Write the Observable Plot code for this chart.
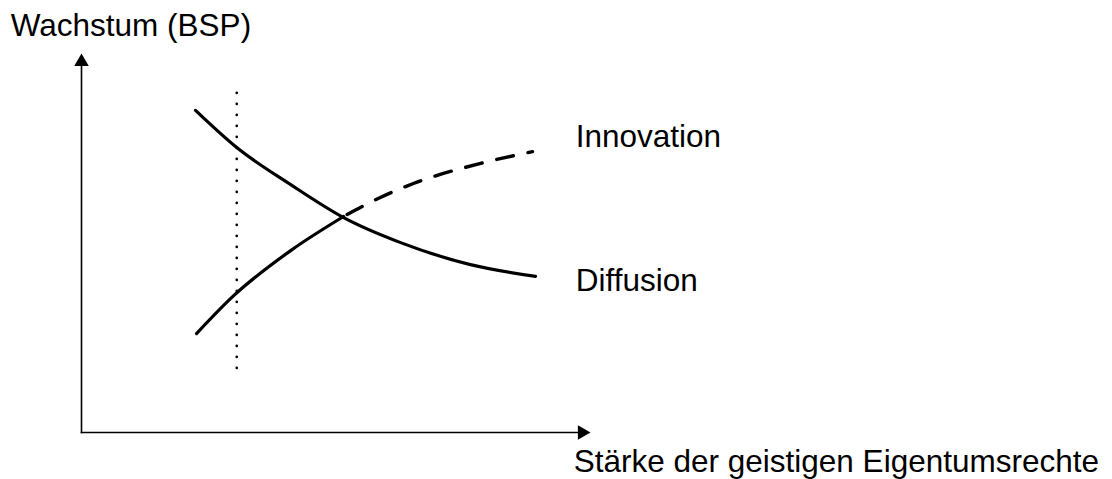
<!DOCTYPE html>
<html>
<head>
<meta charset="utf-8">
<script src="https://cdn.jsdelivr.net/npm/d3@7"></script>
<script src="https://cdn.jsdelivr.net/npm/@observablehq/plot@0.6"></script>
<style>
  html, body { margin: 0; padding: 0; background: #fff; }
  #chart { width: 1112px; height: 479px; }
</style>
</head>
<body>
<div id="chart"></div>
<script>
// Conceptual chart: growth vs. strength of IP rights (abstract units 0..10)
const diffusionX = [2.24, 3.05, 4.11, 5.15, 6.27, 7.64, 8.92];
const diffusionY = [8.50, 7.52, 6.54, 5.67, 5.01, 4.43, 4.12];

const innovationSolidX = [2.26, 2.99, 4.11, 5.15];
const innovationSolidY = [2.61, 3.61, 4.80, 5.70];

const innovationDashedX = [5.15, 5.87, 6.52, 7.84, 8.86];
const innovationDashedY = [5.70, 6.20, 6.57, 7.10, 7.41];

const markerX = 3.05;           // dotted vertical reference line
const markerYRange = [1.69, 8.97];

const axisMax = 10;
const yTitle = "Wachstum (BSP)";
const xTitle = "Stärke der geistigen Eigentumsrechte";
const seriesLabels = ["Innovation", "Diffusion"];
const seriesLabelX = [9.71, 9.71];
const seriesLabelY = [7.80, 4.01];

const toPts = (xs, ys) => xs.map((x, i) => ({x, y: ys[i]}));
const diffusion = toPts(diffusionX, diffusionY);
const innovSolid = toPts(innovationSolidX, innovationSolidY);
const innovDashed = toPts(innovationDashedX, innovationDashedY);
const labels = seriesLabels.map((t, i) => ({t, x: seriesLabelX[i], y: seriesLabelY[i]}));
const yAxisLine = [{x: 0, y: 0}, {x: 0, y: axisMax * 0.97}];
const xAxisLine = [{x: 0, y: 0}, {x: axisMax * 0.98, y: 0}];

const font = "'Liberation Sans', Arial, Helvetica, sans-serif";

const chart = Plot.plot({
  width: 1112,
  height: 479,
  marginLeft: 81,
  marginRight: 522,
  marginTop: 53,
  marginBottom: 47,
  x: {domain: [0, axisMax], axis: null},
  y: {domain: [0, axisMax], axis: null},
  style: {fontFamily: font, background: "#fff", overflow: "visible"},
  marks: [
    // axes
    Plot.line(yAxisLine, {x: "x", y: "y", stroke: "#000", strokeWidth: 1.6, strokeLinecap: "square"}),
    Plot.line(xAxisLine, {x: "x", y: "y", stroke: "#000", strokeWidth: 1.6, strokeLinecap: "square"}),
    Plot.dot([{x: 0, y: axisMax}], {x: "x", y: "y", symbol: "triangle", r: 5.4, fill: "#000", stroke: null, dy: 8.4}),
    Plot.dot([{x: axisMax, y: 0}], {x: "x", y: "y", symbol: "triangle", r: 5.4, fill: "#000", stroke: null, rotate: 90, dx: -8.4}),
    // dotted reference line
    Plot.ruleX([markerX], {y1: markerYRange[0], y2: markerYRange[1], stroke: "#000", strokeWidth: 2.6, strokeDasharray: "0.1,10.9", strokeLinecap: "round"}),
    // curves
    Plot.line(diffusion, {x: "x", y: "y", curve: "monotone-x", stroke: "#000", strokeWidth: 3.2, strokeLinecap: "round"}),
    Plot.line(innovSolid, {x: "x", y: "y", curve: "monotone-x", stroke: "#000", strokeWidth: 3.2, strokeLinecap: "round"}),
    Plot.line(innovDashed, {x: "x", y: "y", curve: "monotone-x", stroke: "#000", strokeWidth: 3.4, strokeDasharray: "17,15", strokeDashoffset: -4, strokeLinecap: "round"}),
    // texts
    Plot.text(labels, {x: "x", y: "y", text: "t", textAnchor: "start", fontSize: 31.5, fill: "#000"}),
    Plot.text([yTitle], {x: () => -1.39, y: () => 10.74, text: d => d, textAnchor: "start", fontSize: 31.5, fill: "#000"}),
    Plot.text([xTitle], {x: () => 9.67, y: () => -0.78, text: d => d, textAnchor: "start", fontSize: 31.5, fill: "#000"})
  ]
});
document.getElementById("chart").appendChild(chart);
</script>
</body>
</html>
